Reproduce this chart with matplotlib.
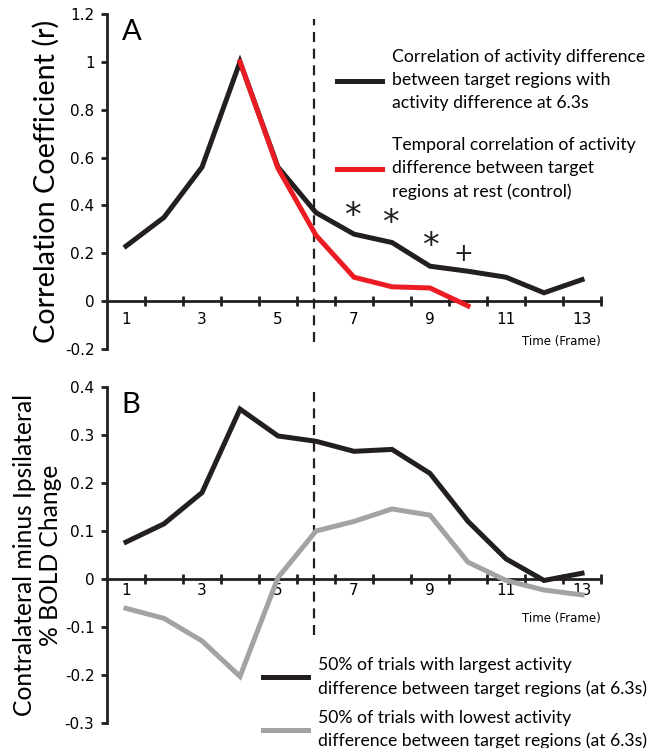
import numpy as np
import matplotlib
matplotlib.use('Agg')
import matplotlib.pyplot as plt
from matplotlib.lines import Line2D

# Data (frame number -> value)
frames = list(range(1, 14))
corr_task = [0.23, 0.35, 0.56, 1.0, 0.56, 0.37, 0.28, 0.245, 0.146, 0.125, 0.10, 0.035, 0.09]
corr_rest_frames = [4, 5, 6, 7, 8, 9, 10]
corr_rest = [1.0, 0.555, 0.275, 0.10, 0.06, 0.055, -0.02]

sig_frames = [6.95, 7.95, 9.0]
sig_y = [0.355, 0.325, 0.23]
trend_frames = [9.87]
trend_y = [0.196]

bold_large = [0.077, 0.115, 0.18, 0.354, 0.298, 0.287, 0.266, 0.27, 0.22, 0.12, 0.042, -0.003, 0.012]
bold_low = [-0.061, -0.082, -0.129, -0.203, 0.003, 0.10, 0.12, 0.146, 0.133, 0.035, -0.003, -0.023, -0.033]

onset = 5.95

xlabels = ['1', '3', '5', '7', '9', '11', '13']
a_ticks = [-0.2, 0, 0.2, 0.4, 0.6, 0.8, 1.0, 1.2]
a_ticklabels = ['-0.2', '0', '0.2', '0.4', '0.6', '0.8', '1', '1.2']
b_ticks = [-0.3, -0.2, -0.1, 0, 0.1, 0.2, 0.3, 0.4]
b_ticklabels = ['-0.3', '-0.2', '-0.1', '0', '0.1', '0.2', '0.3', '0.4']

BLACK = '#231f20'
RED = '#ec1c24'
GRAY = '#a3a3a3'
SANS = 'Lato'

fig = plt.figure(figsize=(6.54, 7.48), dpi=100)
axA = fig.add_axes([0.1636, 0.5334, 0.7554, 0.4479])
axB = fig.add_axes([0.1636, 0.0334, 0.7554, 0.4492])


def style_axis(ax, ylim, yticks, yticklabels, xpad):
    ax.set_xlim(0.5, 13.5)
    ax.set_ylim(*ylim)
    for s in ['top', 'right']:
        ax.spines[s].set_visible(False)
    ax.spines['bottom'].set_position(('data', 0))
    ax.spines['left'].set_linewidth(2)
    ax.spines['bottom'].set_linewidth(2)
    ax.spines['left'].set_color(BLACK)
    ax.spines['bottom'].set_color(BLACK)
    # ticks between frames, labels under odd frames (category axis)
    ax.set_xticks(np.arange(1.5, 14, 1.0))
    ax.set_xticklabels([])
    ax.set_xticks([int(l) for l in xlabels], minor=True)
    ax.set_xticklabels(xlabels, minor=True)
    ax.tick_params(axis='x', which='major', direction='inout', length=7, width=2, color=BLACK)
    ax.tick_params(axis='x', which='minor', length=0, pad=xpad, labelsize=11)
    ax.set_yticks(yticks)
    ax.set_yticklabels(yticklabels)
    ax.tick_params(axis='y', direction='out', length=4, width=2, color=BLACK, pad=5, labelsize=11)


def legend(ax, handles, labels, anchor, gap, linespacing):
    leg = ax.legend(handles, labels, loc='upper left', bbox_to_anchor=anchor, frameon=False,
                    prop={'family': SANS, 'size': 12.7}, handlelength=2.55, handletextpad=0.57,
                    labelspacing=gap, borderpad=0, borderaxespad=0)
    for t in leg.get_texts():
        t.set_linespacing(linespacing)
    return leg


# Panel A
axA.plot(frames, corr_task, color=BLACK, lw=3.6, solid_joinstyle='miter', zorder=3)
axA.plot(corr_rest_frames, corr_rest, color=RED, lw=3.6, solid_joinstyle='miter', zorder=4)
axA.plot([onset, onset], [-0.17, 1.18], color=BLACK, lw=1.6, ls=(0, (4.5, 3)), zorder=2)
for x, y in zip(sig_frames, sig_y):
    axA.text(x, y, '*', fontsize=24, ha='center', va='center', color=BLACK, family='DejaVu Sans')
for x, y in zip(trend_frames, trend_y):
    axA.text(x, y, '+', fontsize=17, ha='center', va='center', color=BLACK, family='DejaVu Sans')
style_axis(axA, (-0.2, 1.2), a_ticks, a_ticklabels, 8)
axA.set_ylabel('Correlation Coefficient (r)', family=SANS, fontsize=20.7, labelpad=4)
axA.text(0.03, 0.985, 'A', transform=axA.transAxes, family=SANS, fontsize=21, va='top')
axA.text(1.0, -0.17, 'Time (Frame)', transform=axA.get_yaxis_transform(), ha='right',
         va='center', fontsize=8.5)
handlesA = [Line2D([], [], color=BLACK, lw=3.6), Line2D([], [], color=RED, lw=3.6)]
labelsA = ['Correlation of activity difference\nbetween target regions with\nactivity difference at 6.3s',
           'Temporal correlation of activity\ndifference between target\nregions at rest (control)']
legend(axA, handlesA, labelsA, (0.4656, 0.895), 1.45, 1.55)

# Panel B
axB.plot(frames, bold_large, color=BLACK, lw=3.6, solid_joinstyle='miter', zorder=3)
axB.plot(frames, bold_low, color=GRAY, lw=3.6, solid_joinstyle='miter', zorder=3)
axB.plot([onset, onset], [-0.117, 0.39], color=BLACK, lw=1.6, ls=(0, (4.5, 3)), zorder=2)
style_axis(axB, (-0.3, 0.4), b_ticks, b_ticklabels, 3)
axB.set_ylabel('Contralateral minus Ipsilateral\n% BOLD Change', family=SANS, fontsize=17.7,
               labelpad=2, linespacing=1.15)
axB.text(0.03, 0.985, 'B', transform=axB.transAxes, family=SANS, fontsize=21, va='top')
axB.text(1.0, -0.083, 'Time (Frame)', transform=axB.get_yaxis_transform(), ha='right',
         va='center', fontsize=8.5)
handlesB = [Line2D([], [], color=BLACK, lw=3.6), Line2D([], [], color=GRAY, lw=3.6)]
labelsB = ['50% of trials with largest activity\ndifference between target regions (at 6.3s)',
           '50% of trials with lowest activity\ndifference between target regions (at 6.3s)']
legend(axB, handlesB, labelsB, (0.3158, 0.195), 0.75, 1.5)

fig.savefig('out.png', dpi=100)
